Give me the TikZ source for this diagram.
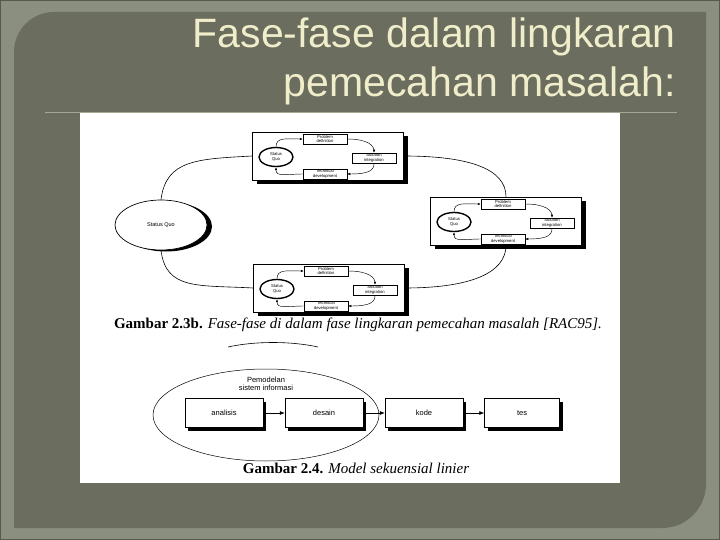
\documentclass[tikz,border=0pt]{standalone}
\usepackage{fontspec}
\setmainfont{Liberation Serif}
\newfontfamily\titlefont{Liberation Sans}
\newfontfamily\diafont{Liberation Sans}
\usetikzlibrary{shapes.geometric,shadows,arrows.meta,positioning,calc}

\definecolor{slideframe}{HTML}{8B8F80}
\definecolor{slideedge}{HTML}{555A4C}
\definecolor{slidepanel}{HTML}{6B6D5E}
\definecolor{titlecream}{HTML}{F0EDCB}
\definecolor{titlerule}{HTML}{A3AA93}

\tikzset{
  phasebox/.style={draw, fill=white, line width=0.5pt, minimum width=151pt, minimum height=48pt,
    drop shadow={shadow xshift=4pt, shadow yshift=-4pt, fill=black, opacity=1}},
  stepmini/.style={draw, fill=white, line width=0.5pt, minimum width=44pt, minimum height=10pt,
    inner sep=0pt, align=center, font=\diafont\fontsize{4.2}{4.4}\selectfont,
    drop shadow={shadow xshift=1.2pt, shadow yshift=-1.2pt, fill=black, opacity=1}},
  sqmini/.style={ellipse, draw, line width=1.4pt, fill=white, minimum width=34pt, minimum height=19pt,
    inner sep=0pt, align=center, font=\diafont\fontsize{4.2}{4.6}\selectfont},
  sqbig/.style={ellipse, draw, line width=0.7pt, fill=white, minimum width=92pt, minimum height=50pt,
    inner sep=0pt, font=\diafont\fontsize{5.5}{6}\selectfont,
    drop shadow={shadow xshift=5pt, shadow yshift=-1.5pt, fill=black, opacity=1}},
  loopline/.style={line width=0.6pt},
  cycarrow/.style={line width=0.45pt, -{Latex[length=3pt,width=2.4pt]}},
  seqbox/.style={draw, fill=white, line width=0.5pt, minimum width=78pt, minimum height=29pt,
    font=\diafont\fontsize{7.5}{9}\selectfont,
    drop shadow={shadow xshift=3pt, shadow yshift=-3pt, fill=black, opacity=1}},
  seqarrow/.style={line width=0.6pt, -{Latex[length=5pt,width=4pt]}},
  titletext/.style={text=titlecream, font=\titlefont\fontsize{41}{47}\selectfont, inner sep=0pt},
  captext/.style={font=\fontsize{15}{18}\selectfont, inner sep=0pt},
}

\begin{document}
\begin{tikzpicture}[x=1pt,y=-1pt]
  \useasboundingbox (0,0) rectangle (720,540);

  % slide background
  \fill[slideframe] (0,0) rectangle (720,540);
  \draw[slideedge, line width=1.2pt] (0.6,0.6) rectangle (719.4,539.4);
  \fill[slidepanel] (14,528) -- (14,52) arc[start angle=180, end angle=270, radius=40]
    -- (706,12) -- (706,484) arc[start angle=0, end angle=90, radius=44] -- cycle;

  % title
  \node[titletext, anchor=base east] (title1) at (676,48) {Fase-fase dalam lingkaran};
  \node[titletext, anchor=base east] (title2) at (676,97) {pemecahan masalah:};
  \coordinate (ruleL) at (45,112);
  \coordinate (ruleR) at (677,112);
  \draw[titlerule, line width=0.8pt] (ruleL) -- (ruleR);

  % picture area
  \fill[white] (80,113) rectangle (620,483);

  % big status quo
  \node[sqbig] (sq) at (161,225) {Status Quo};

  % three phase boxes with mini cycles
  \foreach \b/\px/\py in {A/328/156, B/506/221, C/329/288} {
    \node[phasebox] (\b) at (\px,\py) {};
    \begin{scope}[shift={(\px,\py)}]
      \node[sqmini] (\b-sq) at (-52,1) {Status\\Quo};
      \node[stepmini] (\b-pd) at (-3,-17) {Problem\\definition};
      \node[stepmini] (\b-si) at (46,2) {Solution\\integration};
      \node[stepmini] (\b-td) at (-3,18) {Technical\\development};
    \end{scope}
    \draw[cycarrow] (\b-sq.north) .. controls +(0,-10) and +(-16,0) .. (\b-pd.west);
    \draw[cycarrow] (\b-pd.east) .. controls +(22,0) and +(0,-6) .. (\b-si.north);
    \draw[cycarrow] (\b-si.south) .. controls +(0,7) and +(22,0) .. (\b-td.east);
    \draw[cycarrow] (\b-td.west) .. controls +(-16,0) and +(0,10) .. (\b-sq.south);
  }

  % big loop
  \draw[loopline] (sq.north) .. controls +(5,-40) and +(-55,3) .. (A.west);
  \draw[loopline] (A.east) .. controls +(65,0) and +(0,-28) .. (B.north);
  \draw[loopline] (B.south) .. controls +(0,28) and +(65,0) .. (C.east);
  \draw[loopline] (C.west) .. controls +(-55,-3) and +(5,40) .. (sq.south);

  % caption 2.3b
  \node[captext] (cap1) at (358,325) {\textbf{Gambar 2.3b.} \textit{Fase-fase di dalam fase lingkaran pemecahan masalah [RAC95].}};

  % cut-off arc
  \coordinate (arcL) at (228,347);
  \coordinate (arcR) at (318,347);
  \draw[line width=0.6pt] (arcL) .. controls (255,341) and (291,341) .. (arcR);

  % sequential model
  \node[ellipse, draw, line width=0.5pt, minimum width=226pt, minimum height=92pt] (pemodelan) at (266,415) {};
  \node[font=\diafont\fontsize{7.5}{8.5}\selectfont, align=center] (pemlabel) at (266,384) {Pemodelan\\sistem informasi};
  \node[seqbox] (analisis) at (224,413) {analisis};
  \node[seqbox] (desain) at (324,413) {desain};
  \node[seqbox] (kode) at (424,413) {kode};
  \node[seqbox, minimum width=75pt] (tes) at (522,413) {tes};
  \draw[seqarrow] (analisis) -- (desain);
  \draw[seqarrow] (desain) -- (kode);
  \draw[seqarrow] (kode) -- (tes);

  % caption 2.4
  \node[captext] (cap2) at (356,468) {\textbf{Gambar 2.4.} \textit{Model sekuensial linier}};
\end{tikzpicture}
\end{document}
